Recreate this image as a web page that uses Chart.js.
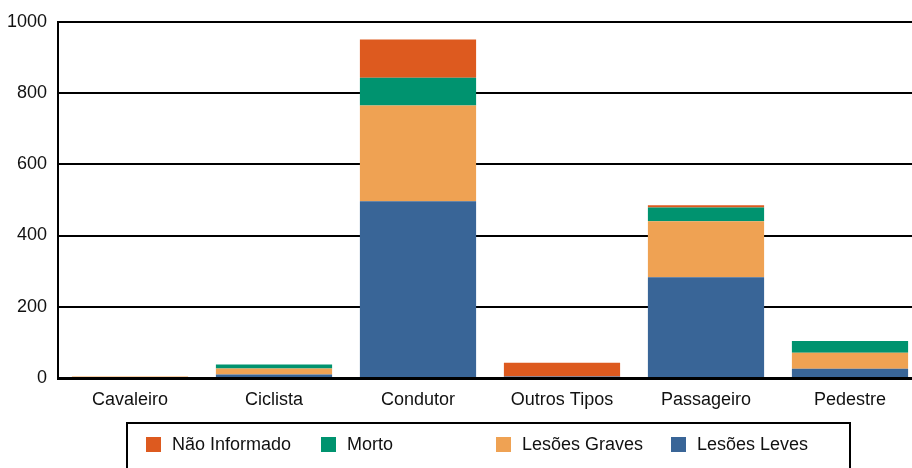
<!DOCTYPE html>
<html>
<head>
<meta charset="utf-8">
<script src="https://cdn.jsdelivr.net/npm/chart.js@4"></script>
<style>
  body { margin: 0; overflow: hidden; background: #fff; }
  #wrap { width: 922px; height: 468px; }
</style>
</head>
<body>
<div id="wrap"><canvas id="chart" width="922" height="468"></canvas></div>
<script>
// categorias e valores
const categories = ['Cavaleiro', 'Ciclista', 'Condutor', 'Outros Tipos', 'Passageiro', 'Pedestre'];
const lesoesLeves = [0, 10, 496, 4, 283, 26];
const lesoesGraves = [4, 17, 269, 0, 157, 45];
const morto = [0, 11, 78, 0, 39, 33];
const naoInformado = [0, 0, 107, 39, 6, 0];
const yTicks = [0, 200, 400, 600, 800, 1000];

const FONT = 'Liberation Sans, Arial, sans-serif';

// legenda desenhada à mão dentro de uma caixa
const boxLegend = {
    id: 'boxLegend',
    afterDraw(chart) {
        const ctx = chart.ctx;
        ctx.save();
        ctx.strokeStyle = '#000';
        ctx.lineWidth = 2;
        ctx.strokeRect(127, 423, 723, 60);
        const items = chart.data.datasets.slice().reverse();
        ctx.font = '18px ' + FONT;
        ctx.textBaseline = 'middle';
        items.forEach((ds, i) => {
            const x = 146 + i * 175;
            ctx.fillStyle = ds.backgroundColor;
            ctx.fillRect(x, 437, 15, 15);
            ctx.fillStyle = '#111';
            ctx.fillText(ds.label, x + 26, 445);
        });
        ctx.restore();
    }
};

const ctx = document.getElementById('chart').getContext('2d');
new Chart(ctx, {
    type: 'bar',
    data: {
        labels: categories,
        datasets: [
            { label: 'Lesões Leves', data: lesoesLeves, backgroundColor: '#396597' },
            { label: 'Lesões Graves', data: lesoesGraves, backgroundColor: '#EFA253' },
            { label: 'Morto', data: morto, backgroundColor: '#00936F' },
            { label: 'Não Informado', data: naoInformado, backgroundColor: '#DD5A1F' }
        ]
    },
    options: {
        responsive: false,
        animation: false,
        layout: { padding: { top: 21, left: 0, right: 0, bottom: 0 } },
        datasets: { bar: { barPercentage: 0.807, categoryPercentage: 1 } },
        plugins: { legend: { display: false }, tooltip: { enabled: false } },
        scales: {
            x: {
                stacked: true,
                grid: { display: false, drawTicks: false },
                border: { color: '#000', width: 3 },
                ticks: { color: '#111', font: { family: FONT, size: 18 }, padding: 11, maxRotation: 0 },
                afterFit(scale) { scale.height = 90; }
            },
            y: {
                stacked: true,
                min: 0,
                max: 1000,
                afterBuildTicks(scale) { scale.ticks = yTicks.map(v => ({ value: v })); },
                grid: { color: '#000', lineWidth: 2, drawTicks: false },
                border: { color: '#000', width: 2 },
                ticks: {
                    color: '#111',
                    font: { family: FONT, size: 18 },
                    padding: 11,
                    callback: function(value) { return String(value); }
                },
                afterFit(scale) { scale.width = 58; }
            }
        }
    },
    plugins: [boxLegend]
});
</script>
</body>
</html>
